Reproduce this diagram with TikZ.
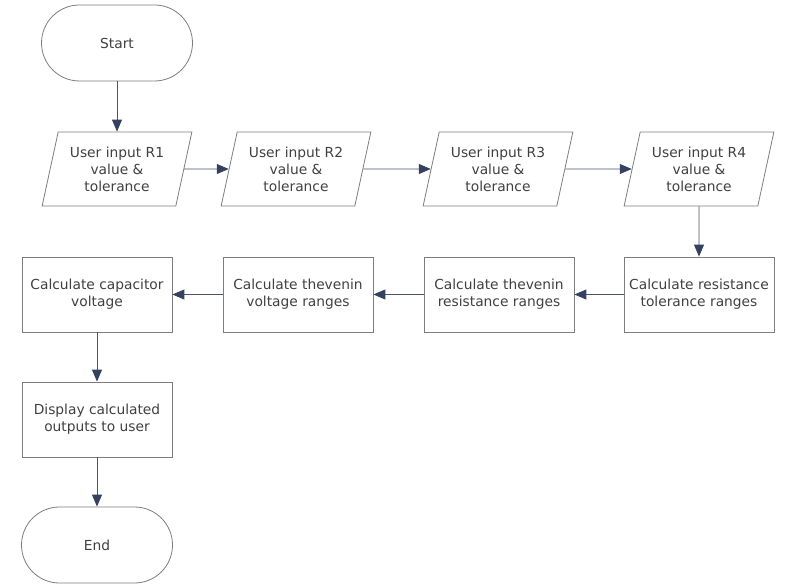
\documentclass[tikz,border=0pt]{standalone}
\usepackage{fontspec}
\setmainfont{DejaVu Sans}
\usetikzlibrary{shapes.geometric, arrows.meta, positioning}
\definecolor{BoxGray}{RGB}{125,125,125}
\definecolor{TextGray}{RGB}{64,64,64}
\definecolor{ArrowSlate}{RGB}{72,84,108}
\definecolor{HeadNavy}{RGB}{52,66,96}

\begin{document}
\begin{tikzpicture}[x=1pt, y=1pt, on grid,
  term/.style={draw=BoxGray, line width=0.8pt, rounded corners=38pt,
               minimum width=151pt, minimum height=76pt, text=TextGray,
               font=\fontsize{13.8}{17}\selectfont, align=center},
  io/.style={trapezium, trapezium left angle=75, trapezium right angle=105,
             trapezium stretches=true, draw=BoxGray, line width=0.8pt,
             minimum width=150pt, minimum height=74pt, text=TextGray,
             font=\fontsize{13.8}{17}\selectfont, align=center},
  proc/.style={rectangle, draw=BoxGray, line width=0.8pt, minimum width=150pt,
               minimum height=75pt, text=TextGray,
               font=\fontsize{13.8}{17}\selectfont, align=center},
  arr/.style={-{Triangle[length=12pt, width=10pt, color=HeadNavy]},
              ArrowSlate, line width=0.9pt},
]
\useasboundingbox (0,0) rectangle (787,-588);

\node[term] (start) at (117,-43) {Start};
\node[io, below=126pt of start] (in1) {User input R1\\value \&\\tolerance};
\node[io, right=179pt of in1] (in2) {User input R2\\value \&\\tolerance};
\node[io, right=202pt of in2] (in3) {User input R3\\value \&\\tolerance};
\node[io, right=201pt of in3] (in4) {User input R4\\value \&\\tolerance};

\node[proc, below=125.5pt of in4] (tolr) {Calculate resistance\\tolerance ranges};
\node[proc, left=200pt of tolr] (thres) {Calculate thevenin\\resistance ranges};
\node[proc, left=201pt of thres] (thvolt) {Calculate thevenin\\voltage ranges};
\node[proc, left=201pt of thvolt] (capv) {Calculate capacitor\\voltage};
\node[proc, below=125pt of capv] (disp) {Display calculated\\outputs to user};
\node[term, below=125.5pt of disp] (end) {End};

\draw[arr] (start) -- (in1);
\draw[arr] (in1) -- (in2);
\draw[arr] (in2) -- (in3);
\draw[arr] (in3) -- (in4);
\draw[arr] (in4) -- (tolr);
\draw[arr] (tolr) -- (thres);
\draw[arr] (thres) -- (thvolt);
\draw[arr] (thvolt) -- (capv);
\draw[arr] (capv) -- (disp);
\draw[arr] (disp) -- (end);
\end{tikzpicture}
\end{document}
